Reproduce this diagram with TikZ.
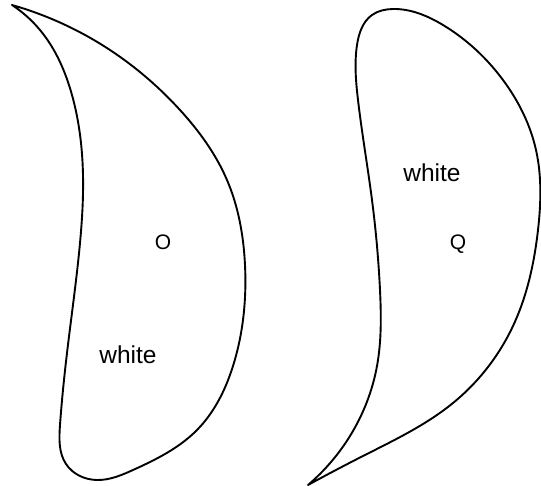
\documentclass[tikz,border=0pt]{standalone}
\usepackage{fontspec}
\setmainfont{Liberation Sans}
\usetikzlibrary{hobby}
\begin{document}
\begin{tikzpicture}[x=1pt,y=-1pt,use Hobby shortcut,
  shapeline/.style={line width=1.9pt,line join=round,line cap=round},
  lbl/.style={font=\fontsize{24.5}{28}\selectfont,inner sep=0pt},
  slbl/.style={font=\fontsize{21}{24}\selectfont,inner sep=0pt}]
\useasboundingbox (0,0) rectangle (541,486);
% left crescent
\draw[shapeline] (12,5) .. (110,50) .. (180,110) .. (227,180) .. (245,265)
 .. (233,366) .. (197,430) .. (133,470) .. (97,480) .. (66,464) .. (60,425)
 .. (67,353) .. (80,243) .. (83,175) .. (72,95) .. (40,30) .. (12,5);
% right crescent
\draw[shapeline] (308,485) .. (350,436) .. (377,366) .. (380,290) .. (372,200)
 .. (358,100) .. (357,45) .. (372,15) .. (393,9) .. (443,25) .. (503,80)
 .. (536,150) .. (538,230) .. (513,326) .. (453,403) .. (363,456) .. (308,485);
\node[lbl] (w1) at (128,355) {white};
\node[slbl] (o) at (163,242) {O};
\node[lbl] (w2) at (432,173) {white};
\node[slbl] (q) at (458,244) {Q};
\end{tikzpicture}
\end{document}
